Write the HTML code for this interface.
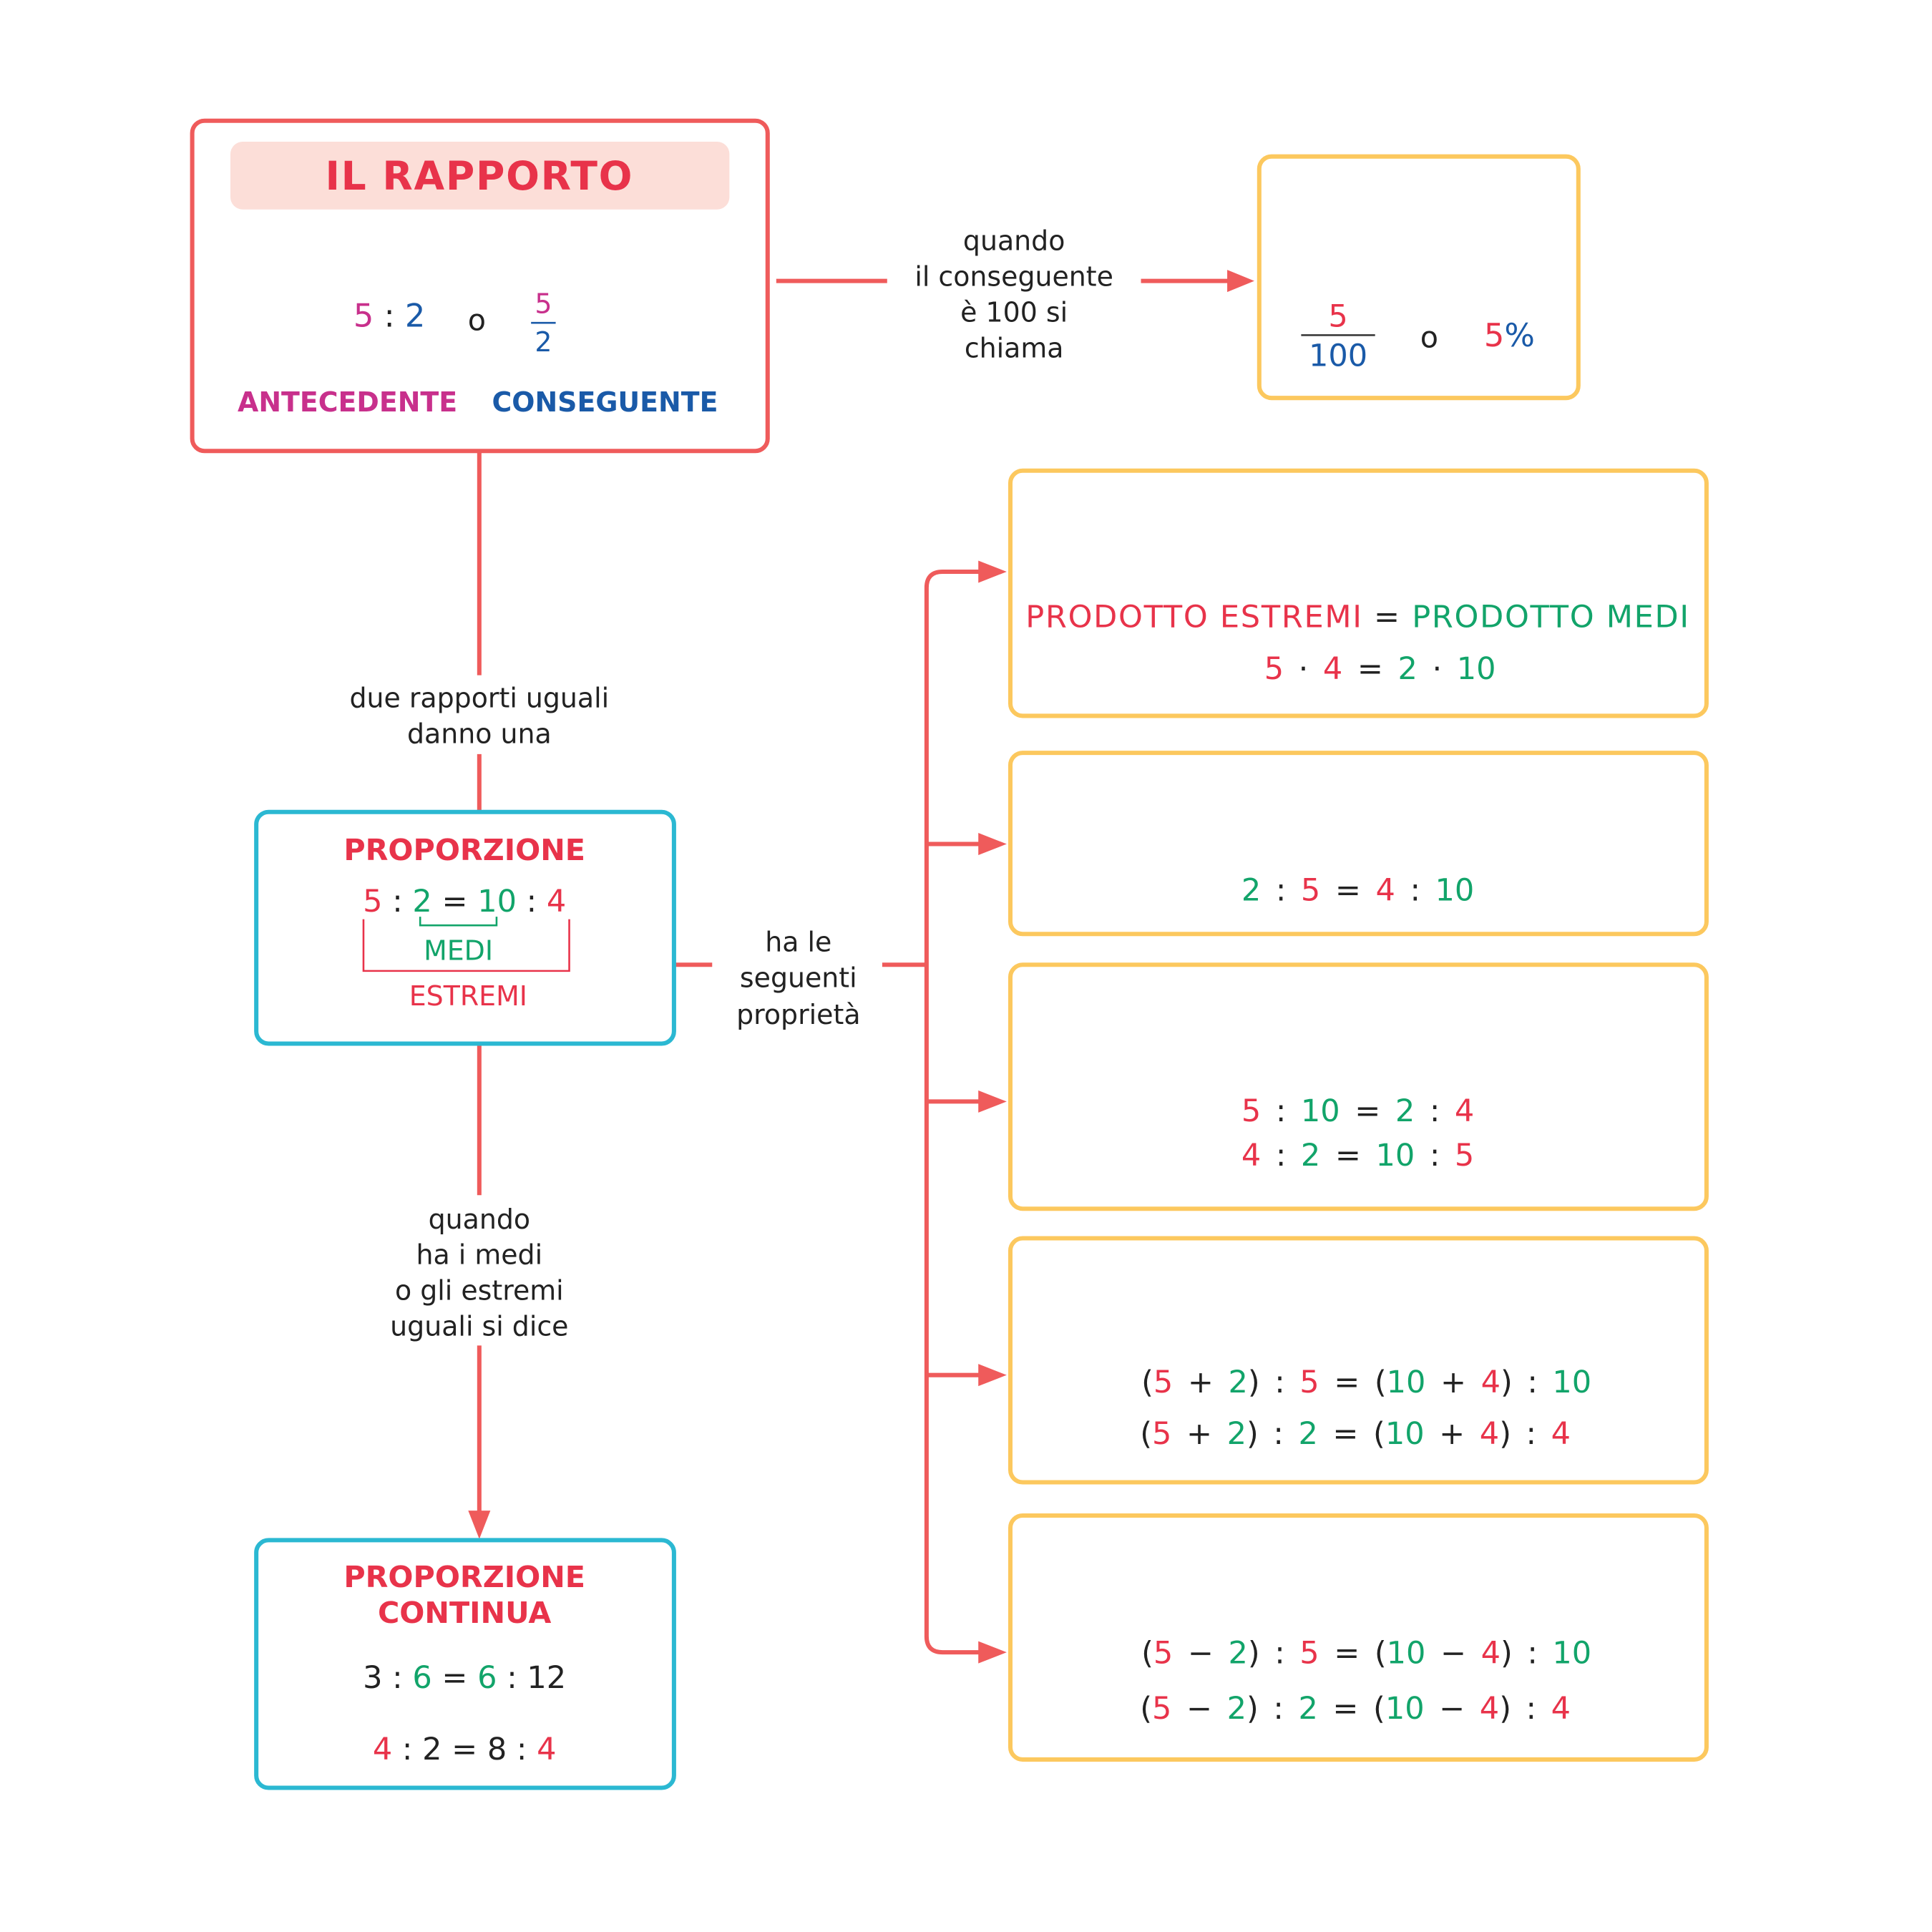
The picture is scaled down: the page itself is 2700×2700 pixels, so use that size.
<!DOCTYPE html>
<html><head><meta charset="utf-8"><style>
html,body{margin:0;padding:0;background:#fff}
svg{display:block}
text{font-family:"DejaVu Sans","Liberation Sans",sans-serif}
.b{font-weight:bold}
.r{fill:#e8334a}.g{fill:#12a46a}.m{fill:#c8308c}.bl{fill:#1a5aa8}.k{fill:#222}
</style></head><body>
<svg width="2700" height="2700" viewBox="0 0 1568 1568" xmlns="http://www.w3.org/2000/svg">
<g fill="none" stroke="#ef5b5b" stroke-width="3.5">
<line x1="630" y1="228" x2="720" y2="228"/>
<line x1="926" y1="228" x2="998" y2="228"/>
<line x1="389" y1="366" x2="389" y2="548"/>
<line x1="389" y1="612" x2="389" y2="659"/>
<line x1="389" y1="847" x2="389" y2="970"/>
<line x1="389" y1="1092" x2="389" y2="1228"/>
<line x1="547" y1="783" x2="578" y2="783"/>
<line x1="716" y1="783" x2="752" y2="783"/>
<path d="M796,464 H765 Q752,464 752,477 V1328 Q752,1341 765,1341 H796"/>
<line x1="752" y1="685" x2="796" y2="685"/>
<line x1="752" y1="894" x2="796" y2="894"/>
<line x1="752" y1="1116" x2="796" y2="1116"/>
</g>
<g fill="#ef5b5b">
<path d="M996,219 L1018,228 L996,237z"/>
<path d="M380,1226 L389,1249 L398,1226z"/>
<path d="M794,455 L817,464 L794,473z"/>
<path d="M794,676 L817,685 L794,694z"/>
<path d="M794,885 L817,894 L794,903z"/>
<path d="M794,1107 L817,1116 L794,1125z"/>
<path d="M794,1332 L817,1341 L794,1350z"/>
</g>
<rect x="156" y="98" width="467" height="268" rx="10" fill="#fff" stroke="#ef5b5b" stroke-width="3.5"/>
<rect x="187" y="115" width="405" height="55" rx="10" fill="#fcded8"/>
<rect x="208" y="659" width="339" height="188" rx="10" fill="#fff" stroke="#2bb8d2" stroke-width="3.5"/>
<rect x="208" y="1250" width="339" height="201" rx="10" fill="#fff" stroke="#2bb8d2" stroke-width="3.5"/>
<g fill="#fff" stroke="#fcc85e" stroke-width="3.5">
<rect x="1022" y="127" width="259" height="196" rx="10"/>
<rect x="820" y="382" width="565" height="199" rx="10"/>
<rect x="820" y="611" width="565" height="147" rx="10"/>
<rect x="820" y="783" width="565" height="198" rx="10"/>
<rect x="820" y="1005" width="565" height="198" rx="10"/>
<rect x="820" y="1230" width="565" height="198" rx="10"/>
</g>
<g font-size="22" text-anchor="middle" class="k">
<text x="389" y="154" font-size="32" class="b r" letter-spacing="1">IL RAPPORTO</text>
<text x="316" y="265" font-size="26"><tspan class="m">5</tspan><tspan class="k"> : </tspan><tspan class="bl">2</tspan></text>
<text x="387" y="268" font-size="24" class="k">o</text>
<text x="441" y="254" font-size="22" class="m">5</text>
<line x1="431" y1="262" x2="451" y2="262" stroke="#1a5aa8" stroke-width="1.5"/>
<text x="441" y="285" font-size="22" class="bl">2</text>
<text x="282" y="334" class="b m" font-size="22">ANTECEDENTE</text>
<text x="491" y="334" class="b bl" font-size="22">CONSEGUENTE</text>
<g font-size="22" class="k">
<text x="823" y="203">quando</text><text x="823" y="232">il conseguente</text><text x="823" y="261">è 100 si</text><text x="823" y="290">chiama</text>
<text x="389" y="574">due rapporti uguali</text><text x="389" y="603">danno una</text>
<text x="648" y="772">ha le</text><text x="648" y="801">seguenti</text><text x="648" y="831">proprietà</text>
<text x="389" y="997">quando</text><text x="389" y="1026">ha i medi</text><text x="389" y="1055">o gli estremi</text><text x="389" y="1084">uguali si dice</text>
</g>
<text x="1086" y="265" font-size="25" class="r">5</text>
<line x1="1056" y1="272" x2="1116" y2="272" stroke="#333" stroke-width="1.5"/>
<text x="1086" y="297" font-size="25" class="bl">100</text>
<text x="1160" y="282" font-size="24">o</text>
<text x="1225" y="281" font-size="26"><tspan class="r">5</tspan><tspan class="bl">%</tspan></text>
<text x="377" y="698" font-size="24" class="b r">PROPORZIONE</text>
<text x="377" y="740" font-size="25"><tspan class="r">5</tspan> : <tspan class="g">2</tspan> = <tspan class="g">10</tspan> : <tspan class="r">4</tspan></text>
<path d="M341,744 V751 H403 V744" fill="none" stroke="#12a46a" stroke-width="1.5"/>
<text x="372" y="779" font-size="22" class="g">MEDI</text>
<path d="M295,746 V788 H462 V746" fill="none" stroke="#e8334a" stroke-width="1.5"/>
<text x="380" y="816" font-size="22" class="r">ESTREMI</text>
<text x="377" y="1288" font-size="24" class="b r">PROPORZIONE</text>
<text x="377" y="1317" font-size="24" class="b r">CONTINUA</text>
<text x="377" y="1370" font-size="25">3 : <tspan class="g">6</tspan> = <tspan class="g">6</tspan> : 12</text>
<text x="377" y="1428" font-size="25"><tspan class="r">4</tspan> : 2 = 8 : <tspan class="r">4</tspan></text>
<g font-size="25">
<text x="1102" y="509" letter-spacing="1"><tspan class="r">PRODOTTO ESTREMI</tspan> = <tspan class="g">PRODOTTO MEDI</tspan></text>
<text x="1120" y="551" word-spacing="4"><tspan class="r">5</tspan> · <tspan class="r">4</tspan> = <tspan class="g">2</tspan> · <tspan class="g">10</tspan></text>
<text x="1102" y="731" word-spacing="4"><tspan class="g">2</tspan> : <tspan class="r">5</tspan> = <tspan class="r">4</tspan> : <tspan class="g">10</tspan></text>
<text x="1102" y="910" word-spacing="4"><tspan class="r">5</tspan> : <tspan class="g">10</tspan> = <tspan class="g">2</tspan> : <tspan class="r">4</tspan></text>
<text x="1102" y="946" word-spacing="4"><tspan class="r">4</tspan> : <tspan class="g">2</tspan> = <tspan class="g">10</tspan> : <tspan class="r">5</tspan></text>
<text x="1109" y="1130" word-spacing="4">(<tspan class="r">5</tspan> + <tspan class="g">2</tspan>) : <tspan class="r">5</tspan> = (<tspan class="g">10</tspan> + <tspan class="r">4</tspan>) : <tspan class="g">10</tspan></text>
<text x="1100" y="1172" word-spacing="4">(<tspan class="r">5</tspan> + <tspan class="g">2</tspan>) : <tspan class="g">2</tspan> = (<tspan class="g">10</tspan> + <tspan class="r">4</tspan>) : <tspan class="r">4</tspan></text>
<text x="1109" y="1350" word-spacing="4">(<tspan class="r">5</tspan> − <tspan class="g">2</tspan>) : <tspan class="r">5</tspan> = (<tspan class="g">10</tspan> − <tspan class="r">4</tspan>) : <tspan class="g">10</tspan></text>
<text x="1100" y="1395" word-spacing="4">(<tspan class="r">5</tspan> − <tspan class="g">2</tspan>) : <tspan class="g">2</tspan> = (<tspan class="g">10</tspan> − <tspan class="r">4</tspan>) : <tspan class="r">4</tspan></text>
</g>
</g>
</svg>
</body></html>
